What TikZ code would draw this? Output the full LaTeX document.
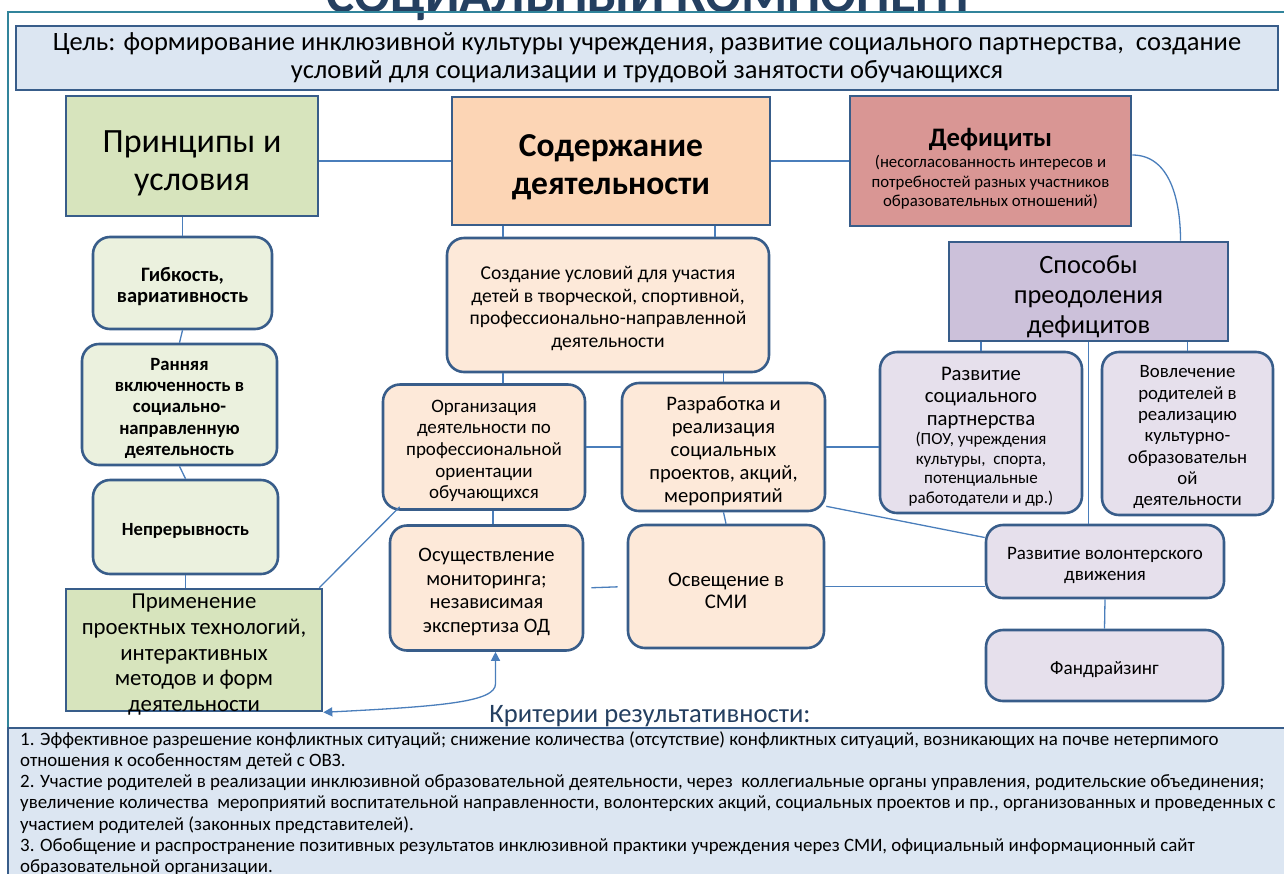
\documentclass[tikz,border=0pt]{standalone}
\usepackage{fontspec}
\setmainfont{Carlito}
\usetikzlibrary{arrows.meta}

\definecolor{boxline}{HTML}{385D8A}
\definecolor{linkblue}{HTML}{4A7EBB}
\definecolor{framecol}{HTML}{31849B}
\definecolor{titlecol}{HTML}{243F60}
\definecolor{goalfill}{HTML}{DCE6F2}
\definecolor{greenfill}{HTML}{D7E4BD}
\definecolor{lgreenfill}{HTML}{EBF1DE}
\definecolor{peachfill}{HTML}{FCD5B5}
\definecolor{lpeachfill}{HTML}{FDE9D9}
\definecolor{rosefill}{HTML}{D99694}
\definecolor{lilacfill}{HTML}{CCC1DA}
\definecolor{llilacfill}{HTML}{E6E0EC}

\newcommand{\fsz}[2]{\fontsize{#1pt}{#2pt}\selectfont}
\newcommand{\lnstrut}{\rule{0pt}{1.05em}}

\begin{document}
\begin{tikzpicture}[x=1pt,y=-1pt,
    box/.style={draw=boxline,line width=2.6pt,inner sep=0pt,align=center},
    rbox/.style={box,rounded corners=17pt},
    conn/.style={draw=linkblue,line width=1.3pt},
    >={Triangle[length=9pt,width=9pt]}]
    \useasboundingbox (0,0) rectangle (1284,873);

    % title and frame
    \draw (651,12) node (title) [anchor=base,text=titlecol,font=\bfseries\fsz{53}{56}] {СОЦИАЛЬНЫЙ КОМПОНЕНТ};
    \draw [framecol,line width=2pt] (8,740) -- (8,12) -- (1290,12);

    \draw (647,58) node (goal) [box,fill=goalfill,minimum width=1262,minimum height=64,font=\fsz{26.5}{28}]
        {Цель: формирование инклюзивной культуры учреждения, развитие социального партнерства,\ \ создание\\условий для социализации и трудовой занятости обучающихся};

    % top row
    \draw (192,156) node (princ) [box,fill=greenfill,minimum width=252,minimum height=120,font=\fsz{34}{38}] {\lnstrut Принципы и\\условия};
    \draw (611,161) node (content) [box,fill=peachfill,minimum width=318,minimum height=128,font=\bfseries\fsz{33.5}{38}] {\lnstrut Содержание\\деятельности};
    \draw (990.5,161) node (deficit) [box,fill=rosefill,minimum width=281,minimum height=130,font=\fsz{16.8}{19.5}]
        {{\bfseries\fsz{26.7}{24}\rule{0pt}{34pt}Дефициты}\\[2pt](несогласованность интересов и\\потребностей разных участников\\образовательных отношений)};
    \draw (1088.5,291.5) node (ways) [box,fill=lilacfill,minimum width=279,minimum height=99,font=\fsz{26.4}{30}] {\lnstrut Способы\\преодоления\\дефицитов};

    % left column
    \draw (182.5,283) node (flex) [rbox,fill=lgreenfill,minimum width=179,minimum height=92,font=\bfseries\fsz{20.5}{20.5}] {\lnstrut Гибкость,\\вариативность};
    \draw (179.5,404.5) node (early) [rbox,fill=lgreenfill,minimum width=195,minimum height=121,font=\bfseries\fsz{18.7}{21.3}]
        {\lnstrut Ранняя\\включенность в\\социально-\\направленную\\деятельность};
    \draw (185.5,527) node (cont) [rbox,fill=lgreenfill,minimum width=185,minimum height=94,font=\bfseries\fsz{18.6}{21}] {\lnstrut Непрерывность};
    \draw (194,650) node (apply) [box,fill=greenfill,minimum width=256,minimum height=122,inner ysep=-7.5pt,font=\fsz{22.8}{25.8}]
        {\lnstrut Применение\\проектных технологий,\\интерактивных\\методов и форм\\деятельности};

    % middle column
    \draw (608,305) node (create) [rbox,fill=lpeachfill,minimum width=322,minimum height=134,font=\fsz{19.6}{22.5}]
        {\lnstrut Создание условий для участия\\детей в творческой, спортивной,\\профессионально-направленной\\деятельности};
    \draw (484,447) node (orient) [rbox,fill=lpeachfill,minimum width=202,minimum height=125,font=\fsz{19}{21.7}]
        {\lnstrut Организация\\деятельности по\\профессиональной\\ориентации\\обучающихся};
    \draw (723.5,447) node (proj) [rbox,fill=lpeachfill,minimum width=203,minimum height=128,font=\fsz{20.6}{23}]
        {\lnstrut Разработка и\\реализация\\социальных\\проектов, акций,\\мероприятий};
    \draw (486.5,588) node (monitor) [rbox,fill=lpeachfill,minimum width=193,minimum height=125,font=\fsz{20.5}{23.5}]
        {\lnstrut Осуществление\\мониторинга;\\независимая\\экспертиза ОД};
    \draw (726,586.5) node (media) [rbox,fill=lpeachfill,minimum width=196,minimum height=123,font=\fsz{20.8}{22}] {\lnstrut Освещение в\\СМИ};

    % right column
    \draw (981,432.5) node (partner) [rbox,fill=llilacfill,minimum width=202,minimum height=161,font=\fsz{17}{19.5}]
        {{\fsz{20.7}{22.5}\lnstrut Развитие}\\[3pt]{\fsz{20.7}{22.5}социального}\\[3pt]{\fsz{20.7}{22.5}партнерства}\\(ПОУ, учреждения\\культуры,\ \ спорта,\\потенциальные\\работодатели и др.)};
    \draw (1187.5,433.5) node (parents) [rbox,fill=llilacfill,minimum width=171,minimum height=163,font=\fsz{18.8}{21.3}]
        {\lnstrut Вовлечение\\родителей в\\реализацию\\культурно-\\образовательн\\ой\\деятельности};
    \draw (1105,561.5) node (volunt) [rbox,fill=llilacfill,minimum width=238,minimum height=73,font=\fsz{19}{21}] {\lnstrut Развитие волонтерского\\движения};
    \draw (1104.5,665.5) node (fund) [rbox,fill=llilacfill,minimum width=237,minimum height=71,font=\fsz{19.2}{21}] {\lnstrut Фандрайзинг};

    % links
    \draw [conn] (content.west) -- (content.west -| princ.east);
    \draw [conn] (content.east) -- (deficit.west);
    \draw [conn] ([yshift=6pt]deficit.east) to [out=0,in=90] ([xshift=92pt]ways.north);
    \draw [conn] (princ.south -| flex.north) -- (flex.north);
    \draw [conn] (flex.south) -- (early.north);
    \draw [conn] (early.south) -- (cont.north);
    \draw [conn] (cont.south) -- (cont.south |- apply.north);
    \draw [conn] ([xshift=-108pt]content.south) -- ([xshift=-108pt]content.south |- create.north);
    \draw [conn] ([xshift=104pt]content.south) -- ([xshift=104pt]content.south |- create.north);
    \draw [conn] ([xshift=19pt]orient.north) -- ([xshift=19pt]orient.north |- create.south);
    \draw [conn] (proj.north) -- (proj.north |- create.south);
    \draw [conn] (orient.east) -- (proj.west);
    \draw [conn] ([xshift=9pt]orient.south) -- ([xshift=9pt]orient.south |- monitor.north);
    \draw [conn] (proj.south) -- (media.north);
    \draw [conn,shorten <=7pt,shorten >=9pt] (monitor.east) -- (media.west);
    \draw [conn] (proj.east) -- (proj.east -| partner.west);
    \draw [conn] ([yshift=6pt]proj.south east) -- ([yshift=24pt]volunt.west);
    \draw [conn] (media.east) -- (media.east -| volunt.west);
    \draw [conn] (partner.north) -- (partner.north |- ways.south);
    \draw [conn] (ways.south) -- (ways.south |- volunt.north);
    \draw [conn] (parents.north) -- (parents.north |- ways.south);
    \draw [conn] (volunt.south) -- (fund.north);
    \draw [conn] ([xshift=18pt,yshift=4pt]orient.south west) -- ([xshift=-4pt]apply.north east);
    \draw [conn,<->] (apply.south east) .. controls +(120,-6) and +(0,18) .. ([xshift=9pt,yshift=-32pt]monitor.south) -- ([xshift=9pt]monitor.south);

    % criteria
    \draw (650,716) node (crithead) [text=titlecol,font=\fsz{26.6}{28}] {Критерии результативности:};
    \draw [draw=boxline,fill=goalfill,line width=2.6pt] (8,728) rectangle (1295,900);
    \draw (20,731) node (crit) [anchor=north west,inner sep=0pt,align=left,font=\fsz{18.9}{21.3}]
        {1. Эффективное разрешение конфликтных ситуаций; снижение количества (отсутствие) конфликтных ситуаций, возникающих на почве нетерпимого\\
         отношения к особенностям детей с ОВЗ.\\
         2. Участие родителей в реализации инклюзивной образовательной деятельности, через\ \ коллегиальные органы управления, родительские объединения;\\
         увеличение количества\ \ мероприятий воспитательной направленности, волонтерских акций, социальных проектов и пр., организованных и проведенных с\\
         участием родителей (законных представителей).\\
         3. Обобщение и распространение позитивных результатов инклюзивной практики учреждения через СМИ, официальный информационный сайт\\
         образовательной организации.};
\end{tikzpicture}
\end{document}
